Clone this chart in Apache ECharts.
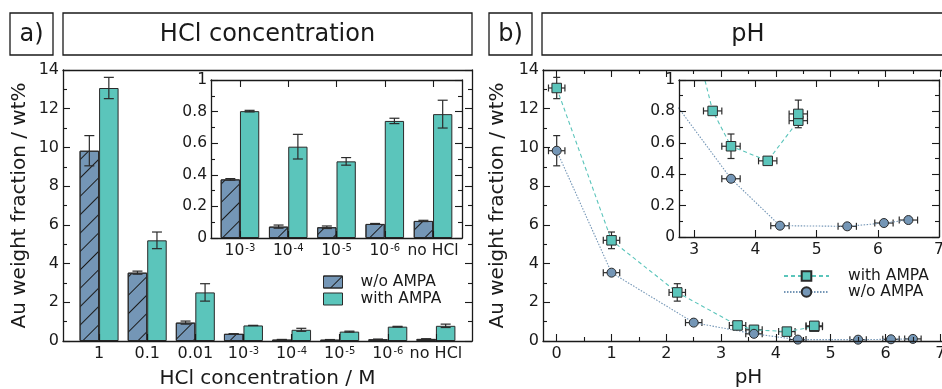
<!DOCTYPE html>
<html><head><meta charset="utf-8">
<script src="https://cdn.jsdelivr.net/npm/echarts@6/dist/echarts.min.js"></script>
<style>html,body{margin:0;padding:0;background:#fff}#c{width:942px;height:389px}</style>
</head><body><div id="c"></div>
<script>
// ---- data ----
const categories = ['1', '0.1', '0.01', '10^-3', '10^-4', '10^-5', '10^-6', 'no HCl'];
const woValues   = [9.83, 3.53, 0.95, 0.371, 0.072, 0.068, 0.089, 0.108];
const woErr      = [0.78, 0.08, 0.08, 0.005, 0.010, 0.008, 0.003, 0.004];
const withValues = [13.07, 5.20, 2.51, 0.803, 0.578, 0.485, 0.741, 0.784];
const withErr    = [0.55, 0.43, 0.45, 0.005, 0.078, 0.024, 0.017, 0.088];
const woPH       = [0, 1, 2.5, 3.6, 4.4, 5.5, 6.1, 6.5];
const withPH     = [0, 1, 2.2, 3.3, 3.6, 4.2, 4.7, 4.7];
const woPHErr    = [0.15, 0.15, 0.15, 0.15, 0.15, 0.15, 0.15, 0.15];
const withPHErr  = [0.15, 0.15, 0.15, 0.15, 0.15, 0.15, 0.15, 0.15];
const insetStart = 3;   // inset shows categories from 10^-3 on
const mainYTicks = [0, 14, 2];
const insetYTicks = [0, 1, 0.2];

// ---- style ----
const FONT = 'DejaVu Sans';
const INK = '#1a1a1a';
const TEAL = '#5bc5bb';
const BLUE = '#7496b6';
const EDGE = '#2a2a2a';

const chart = echarts.init(document.getElementById('c'), null, {renderer: 'canvas'});

function fmtCat(s) {
  const m = /^10\^(-\d+)$/.exec(s);
  return m ? '10{s|' + m[1] + '}' : s;
}
const range = (a, b, st) => { const r = []; for (let v = a; v <= b + 1e-9; v += st) r.push(+v.toFixed(6)); return r; };

function xAx(grid, pos, min, max, o) {
  o = o || {};
  return {
    type: 'value', gridIndex: grid, position: pos, min: min, max: max,
    axisLine: {show: o.line !== false, onZero: false, lineStyle: {color: INK, width: 1.3}},
    axisTick: o.ticks ? {show: true, inside: true, length: o.tickLen || 7, customValues: o.ticks, lineStyle: {color: INK, width: 1.1}} : {show: false},
    axisLabel: o.labels ? {show: true, customValues: o.labels, margin: o.margin || 5, color: INK, fontFamily: FONT, fontSize: o.fs || 16,
      formatter: o.fmt, rich: {s: {fontSize: 10, fontFamily: FONT, color: INK, verticalAlign: 'top', padding: [0, 0, 6, 1]}}} : {show: false},
    splitLine: {show: false},
    name: o.name || '', nameLocation: 'middle', nameGap: o.nameGap || 28,
    nameTextStyle: {fontFamily: FONT, fontSize: 20, color: INK},
    z: 10
  };
}
function yAx(grid, pos, t, o) {
  o = o || {};
  return {
    type: 'value', gridIndex: grid, position: pos, min: t[0], max: t[1], interval: t[2],
    axisLine: {show: true, onZero: false, lineStyle: {color: INK, width: 1.3}},
    axisTick: {show: true, inside: true, length: 7, lineStyle: {color: INK, width: 1.1}},
    minorTick: {show: true, splitNumber: 2, length: 4, lineStyle: {color: INK, width: 1.1}},
    axisLabel: {show: !!o.labels, margin: 4, color: INK, fontFamily: FONT, fontSize: o.fs || 16},
    splitLine: {show: false},
    name: o.name || '', nameLocation: 'middle', nameGap: o.nameGap || 36, nameRotate: 90,
    nameTextStyle: {fontFamily: FONT, fontSize: 20, color: INK},
    z: 10
  };
}

const hatch = {symbol: 'rect', symbolSize: 1, dashArrayX: [1, 0], dashArrayY: [1, 12], rotation: -Math.PI / 4, color: '#1a1a1a'};

function barErr(halfOffset, cap) {
  return function (params, api) {
    const x = api.value(0), y = api.value(1), e = api.value(2), s = api.value(3);
    const c = api.coord([x, y]);
    const px = c[0] + s * halfOffset;
    const y1 = api.coord([x, y + e])[1], y2 = api.coord([x, Math.max(0, y - e)])[1];
    const st = () => ({stroke: '#2b2b2b', lineWidth: 1.2, fill: null});
    return {type: 'group', children: [
      {type: 'line', shape: {x1: px, y1: y1, x2: px, y2: y2}, style: st()},
      {type: 'line', shape: {x1: px - cap, y1: y1, x2: px + cap, y2: y1}, style: st()},
      {type: 'line', shape: {x1: px - cap, y1: y2, x2: px + cap, y2: y2}, style: st()}
    ]};
  };
}
function xyErr(cap) {
  return function (params, api) {
    const x = api.value(0), y = api.value(1), xe = api.value(2), ye = api.value(3);
    const l = api.coord([x - xe, y]), r = api.coord([x + xe, y]);
    const t = api.coord([x, y + ye]), b = api.coord([x, y - ye]);
    const st = () => ({stroke: '#2b2b2b', lineWidth: 1.2, fill: null});
    return {type: 'group', children: [
      {type: 'line', shape: {x1: l[0], y1: l[1], x2: r[0], y2: r[1]}, style: st()},
      {type: 'line', shape: {x1: l[0], y1: l[1] - cap, x2: l[0], y2: l[1] + cap}, style: st()},
      {type: 'line', shape: {x1: r[0], y1: r[1] - cap, x2: r[0], y2: r[1] + cap}, style: st()},
      {type: 'line', shape: {x1: t[0], y1: t[1], x2: b[0], y2: b[1]}, style: st()},
      {type: 'line', shape: {x1: t[0] - cap, y1: t[1], x2: t[0] + cap, y2: t[1]}, style: st()},
      {type: 'line', shape: {x1: b[0] - cap, y1: b[1], x2: b[0] + cap, y2: b[1]}, style: st()}
    ]};
  };
}

const allIdx = categories.map((c, i) => i);
const insetIdx = allIdx.slice(insetStart);
const catFmt = (offset) => (v) => { const c = categories[Math.round(v) + offset]; return c === undefined ? '' : fmtCat(c); };

const BW_MAIN = 19.5, BW_INSET = 19.3;

function barSeries(name, values, color, xi, yi, idx, offset, bw, decal) {
  return {
    type: 'bar', name: name, xAxisIndex: xi, yAxisIndex: yi, barWidth: bw, barGap: '0%',
    data: idx.map(i => [i - offset, values[i]]),
    itemStyle: {color: color, borderColor: EDGE, borderWidth: 1, decal: decal || null},
    z: 3, animation: false
  };
}
function barErrSeries(xi, yi, idx, offset, bw) {
  const d = [];
  idx.forEach(i => { d.push([i - offset, woValues[i], woErr[i], -1]); d.push([i - offset, withValues[i], withErr[i], 1]); });
  return {type: 'custom', xAxisIndex: xi, yAxisIndex: yi, data: d, renderItem: barErr(bw / 2, 5),
    encode: {x: 0, y: 1}, z: 4, silent: true, animation: false};
}
function ptErrSeries(xi, yi, ph, phe, vals, errs) {
  return {type: 'custom', xAxisIndex: xi, yAxisIndex: yi, clip: true,
    data: ph.map((p, i) => [p, vals[i], phe[i], errs[i]]), renderItem: xyErr(3.5),
    encode: {x: 0, y: 1}, z: 4, silent: true, animation: false};
}
function lineSeries(name, ph, vals, xi, yi, color, symbol, size, dash) {
  return {type: 'line', name: name, xAxisIndex: xi, yAxisIndex: yi, clip: true,
    data: ph.map((p, i) => [p, vals[i]]), symbol: symbol, symbolSize: size, showAllSymbol: true,
    lineStyle: {color: color, width: 1.1, type: dash},
    itemStyle: {color: color, borderColor: EDGE, borderWidth: 1},
    z: 5, animation: false};
}

const option = {
  backgroundColor: '#fff',
  animation: false,
  textStyle: {fontFamily: FONT},
  grid: [
    {left: 63, width: 409, top: 70, bottom: 48, outerBoundsMode: 'none', containLabel: false},
    {left: 211, width: 251, top: 80, bottom: 151, show: true, backgroundColor: '#fff', borderWidth: 0, outerBoundsMode: 'none', containLabel: false},
    {left: 543, width: 411, top: 70, bottom: 48, outerBoundsMode: 'none', containLabel: false},
    {left: 679, width: 260, top: 80, bottom: 152, show: true, backgroundColor: '#fff', borderWidth: 0, outerBoundsMode: 'none', containLabel: false}
  ],
  xAxis: [
    xAx(0, 'bottom', -0.75, 7.75, {ticks: allIdx, labels: allIdx, fmt: catFmt(0), name: 'HCl concentration / M', nameGap: 28}),
    xAx(0, 'top', -0.75, 7.75, {}),
    xAx(1, 'bottom', -0.6, 4.6, {ticks: insetIdx.map(i => i - insetStart), labels: insetIdx.map(i => i - insetStart), fmt: catFmt(insetStart), fs: 15.5}),
    xAx(1, 'top', -0.6, 4.6, {ticks: insetIdx.map(i => i - insetStart)}),
    xAx(2, 'bottom', -0.25, 7.25, {ticks: range(0, 7, 1), labels: range(0, 7, 1), fmt: v => String(v), name: 'pH', nameGap: 27}),
    xAx(2, 'bottom', -0.25, 7.25, {line: false, ticks: range(0.5, 6.5, 1), tickLen: 4}),
    xAx(2, 'top', -0.25, 7.25, {ticks: range(0, 7, 1)}),
    xAx(2, 'top', -0.25, 7.25, {line: false, ticks: range(0.5, 6.5, 1), tickLen: 4}),
    xAx(3, 'bottom', 2.75, 7, {ticks: range(3, 7, 1), labels: range(3, 7, 1), fmt: v => String(v), fs: 15.5}),
    xAx(3, 'top', 2.75, 7, {ticks: range(3, 7, 1)})
  ],
  yAxis: [
    yAx(0, 'left', mainYTicks, {labels: true, name: 'Au weight fraction / wt%', nameGap: 33}),
    yAx(0, 'right', mainYTicks),
    yAx(1, 'left', insetYTicks, {labels: true, fs: 15.5}),
    yAx(1, 'right', insetYTicks),
    yAx(2, 'left', mainYTicks, {labels: true, name: 'Au weight fraction / wt%', nameGap: 35}),
    yAx(2, 'right', mainYTicks),
    yAx(3, 'left', insetYTicks, {labels: true, fs: 15.5}),
    yAx(3, 'right', insetYTicks)
  ],
  legend: [
    {left: 318, top: 269, orient: 'vertical', itemWidth: 19, itemHeight: 12, itemGap: 1, icon: 'rect',
      data: ['w/o AMPA', 'with AMPA'], selectedMode: false,
      itemStyle: {borderWidth: 1, borderColor: EDGE},
      textStyle: {fontFamily: FONT, fontSize: 15.5, color: INK, padding: [0, 0, 0, 13]}},
    {left: 778, top: 263, orient: 'vertical', itemWidth: 45, itemHeight: 12, itemGap: 0,
      data: ['with AMPA ', 'w/o AMPA '], selectedMode: false, formatter: n => n.trim(),
      textStyle: {fontFamily: FONT, fontSize: 15.5, color: INK, padding: [0, 0, 0, 14]}}
  ],
  series: [
    barSeries('w/o AMPA', woValues, BLUE, 0, 0, allIdx, 0, BW_MAIN, hatch),
    barSeries('with AMPA', withValues, TEAL, 0, 0, allIdx, 0, BW_MAIN),
    barErrSeries(0, 0, allIdx, 0, BW_MAIN),
    barSeries('w/o AMPA', woValues, BLUE, 2, 2, insetIdx, insetStart, BW_INSET, hatch),
    barSeries('with AMPA', withValues, TEAL, 2, 2, insetIdx, insetStart, BW_INSET),
    barErrSeries(2, 2, insetIdx, insetStart, BW_INSET),

    ptErrSeries(4, 4, withPH, withPHErr, withValues, withErr),
    ptErrSeries(4, 4, woPH, woPHErr, woValues, woErr),
    lineSeries('with AMPA ', withPH, withValues, 4, 4, TEAL, 'rect', 9.5, [4, 3]),
    lineSeries('w/o AMPA ', woPH, woValues, 4, 4, BLUE, 'circle', 9, [1.5, 1.5]),
    ptErrSeries(8, 6, withPH, withPHErr, withValues, withErr),
    ptErrSeries(8, 6, woPH, woPHErr, woValues, woErr),
    lineSeries('with AMPA ', withPH, withValues, 8, 6, TEAL, 'rect', 9.5, [4, 3]),
    lineSeries('w/o AMPA ', woPH, woValues, 8, 6, BLUE, 'circle', 9, [1.5, 1.5])
  ],
  graphic: [
    {type: 'rect', shape: {x: 10, y: 13, width: 43, height: 42}, style: {fill: '#fff', stroke: INK, lineWidth: 1.3}},
    {type: 'text', x: 31.5, y: 34.5, style: {text: 'a)', font: '24px "DejaVu Sans"', fill: INK, align: 'center', verticalAlign: 'middle'}},
    {type: 'rect', shape: {x: 63, y: 13, width: 409, height: 42}, style: {fill: '#fff', stroke: INK, lineWidth: 1.3}},
    {type: 'text', x: 267.5, y: 34.5, style: {text: 'HCl concentration', font: '24px "DejaVu Sans"', fill: INK, align: 'center', verticalAlign: 'middle'}},
    {type: 'rect', shape: {x: 489, y: 13, width: 43, height: 42}, style: {fill: '#fff', stroke: INK, lineWidth: 1.3}},
    {type: 'text', x: 510.5, y: 34.5, style: {text: 'b)', font: '24px "DejaVu Sans"', fill: INK, align: 'center', verticalAlign: 'middle'}},
    {type: 'rect', shape: {x: 542, y: 13, width: 412, height: 42}, style: {fill: '#fff', stroke: INK, lineWidth: 1.3}},
    {type: 'text', x: 748, y: 34.5, style: {text: 'pH', font: '24px "DejaVu Sans"', fill: INK, align: 'center', verticalAlign: 'middle'}}
  ]
};
chart.setOption(option);
</script>
</body></html>
